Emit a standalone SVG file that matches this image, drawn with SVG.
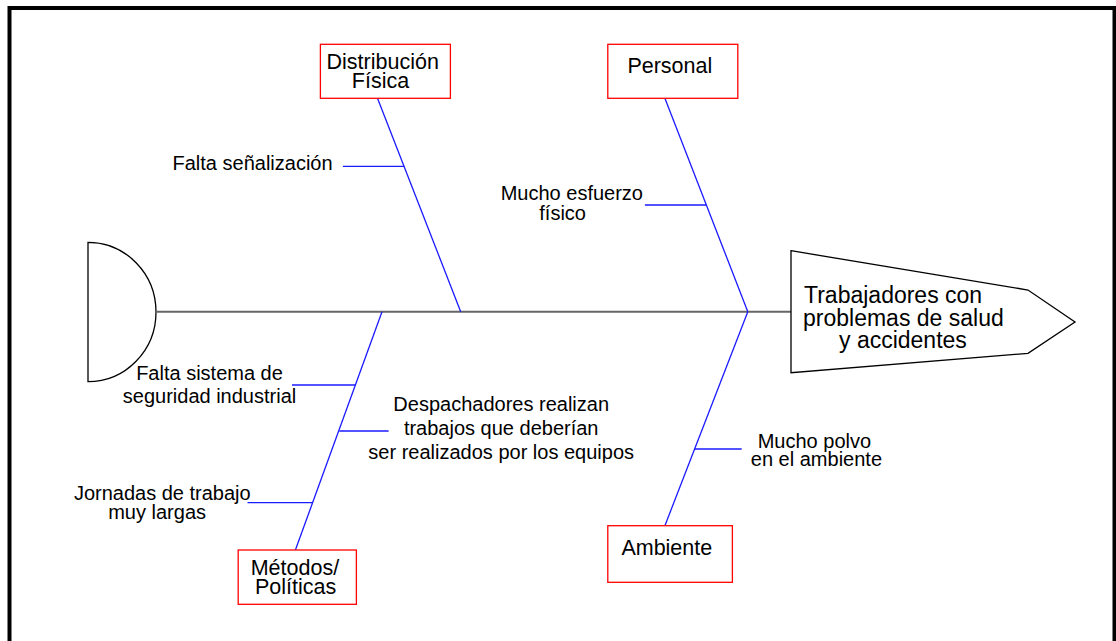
<svg xmlns="http://www.w3.org/2000/svg" width="1116" height="641" viewBox="0 0 1116 641">
<style>
text{font-family:"Liberation Sans",Arial,sans-serif;fill:#000}
.lbl{font-size:20px}
.cat{font-size:21.5px}
.head{font-size:23px}
.box{fill:#fff;stroke:#ff0000;stroke-width:1.3}
.br{stroke:#1a1aff;stroke-width:1.3;fill:none}
.spine{stroke:#666;stroke-width:2;fill:none}
.shape{fill:#fff;stroke:#000;stroke-width:1.3}
</style>
<rect x="0" y="0" width="1116" height="641" fill="#fff"/>
<rect x="9.5" y="8" width="1105" height="700" fill="none" stroke="#000" stroke-width="4"/>

<g id="tail">
<path class="shape" d="M88,242.3 A68,69.7 0 0 1 88,381.7 Z"/>
</g>

<g id="connectors">
<line class="spine" x1="156" y1="311.7" x2="791" y2="311.7"/>
<line class="br" x1="377.5" y1="98.3" x2="460.7" y2="311.7"/>
<line class="br" x1="664.9" y1="98.3" x2="747.8" y2="311.7"/>
<line class="br" x1="382" y1="311.7" x2="295.4" y2="550"/>
<line class="br" x1="747.8" y1="311.7" x2="664.9" y2="525.7"/>
<line class="br" x1="342.9" y1="166.3" x2="404" y2="166.3"/>
<line class="br" x1="644.9" y1="205" x2="706" y2="205"/>
<line class="br" x1="292" y1="385" x2="355.4" y2="385"/>
<line class="br" x1="339.3" y1="431" x2="388.6" y2="431"/>
<line class="br" x1="247.5" y1="502.7" x2="312.2" y2="502.7"/>
<line class="br" x1="694.5" y1="449" x2="741.7" y2="449"/>
</g>

<g id="head">
<polygon class="shape" points="791,250.7 1028,290 1075,322 1028,353.3 791,372.7"/>
<text class="head" x="804" y="303.3">Trabajadores con</text>
<text class="head" x="803" y="326">problemas de salud</text>
<text class="head" x="839" y="348.3">y accidentes</text>
</g>

<g id="cat-distribucion">
<rect class="box" x="320.4" y="44.3" width="130" height="54"/>
<text class="cat" x="382.7" y="69" text-anchor="middle">Distribución</text>
<text class="cat" x="380.5" y="88.3" text-anchor="middle">Física</text>
</g>

<g id="cat-personal">
<rect class="box" x="607.8" y="44.3" width="130" height="54"/>
<text class="cat" x="627.4" y="72.7">Personal</text>
</g>

<g id="cat-metodos">
<rect class="box" x="238.2" y="550" width="118.2" height="54.3"/>
<text class="cat" x="250.7" y="575">Métodos/</text>
<text class="cat" x="255" y="594.3">Políticas</text>
</g>

<g id="cat-ambiente">
<rect class="box" x="607.8" y="525.7" width="124.6" height="56.6"/>
<text class="cat" x="621.4" y="555">Ambiente</text>
</g>

<g id="cause-senalizacion">
<text class="lbl" x="172.5" y="170">Falta señalización</text>
</g>

<g id="cause-esfuerzo">
<text class="lbl" x="500.7" y="200">Mucho esfuerzo</text>
<text class="lbl" x="539.3" y="220">físico</text>
</g>

<g id="cause-seguridad">
<text class="lbl" x="209.5" y="380" text-anchor="middle">Falta sistema de</text>
<text class="lbl" x="209.5" y="403.3" text-anchor="middle">seguridad industrial</text>
</g>

<g id="cause-despachadores">
<text class="lbl" x="501.2" y="410.7" text-anchor="middle">Despachadores realizan</text>
<text class="lbl" x="501.2" y="435" text-anchor="middle">trabajos que deberían</text>
<text class="lbl" x="501.2" y="459.3" text-anchor="middle">ser realizados por los equipos</text>
</g>

<g id="cause-jornadas">
<text class="lbl" x="73.9" y="500">Jornadas de trabajo</text>
<text class="lbl" x="108.2" y="519">muy largas</text>
</g>

<g id="cause-polvo">
<text class="lbl" x="814.4" y="448.3" text-anchor="middle">Mucho polvo</text>
<text class="lbl" x="816.4" y="465.7" text-anchor="middle">en el ambiente</text>
</g>
</svg>
